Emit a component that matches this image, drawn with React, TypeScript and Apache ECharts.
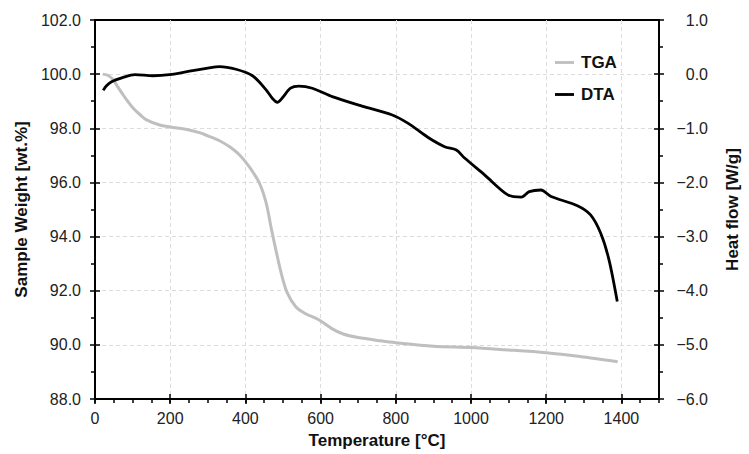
import React, { useEffect, useRef } from "react";
import * as echarts from "echarts";

const tgaTemp = [21, 35, 48, 62, 75, 88, 101, 120, 137, 172, 200, 250, 280, 300, 330, 360, 384, 410, 437, 455, 468, 481, 495, 511, 534, 560, 595, 630, 660, 700, 760, 800, 900, 1000, 1090, 1200, 1290, 1390];
const tgaWeight = [100.0, 99.95, 99.8, 99.5, 99.23, 98.98, 98.75, 98.5, 98.31, 98.12, 98.05, 97.94, 97.83, 97.72, 97.55, 97.3, 97.02, 96.58, 95.98, 95.25, 94.36, 93.51, 92.66, 91.93, 91.41, 91.15, 90.93, 90.6, 90.4, 90.27, 90.15, 90.08, 89.95, 89.9, 89.82, 89.71, 89.57, 89.38];

const dtaTemp = [22, 30, 44, 75, 106, 154, 198, 260, 300, 331, 375, 419, 454, 472, 485, 498, 520, 542, 578, 631, 710, 789, 833, 886, 930, 961, 983, 1036, 1098, 1134, 1155, 1186, 1213, 1283, 1318, 1345, 1367, 1389];
const dtaHeat = [-0.30, -0.22, -0.14, -0.06, -0.01, -0.03, -0.01, 0.065, 0.11, 0.14, 0.09, -0.03, -0.28, -0.45, -0.52, -0.44, -0.26, -0.22, -0.26, -0.415, -0.59, -0.75, -0.91, -1.17, -1.34, -1.40, -1.55, -1.86, -2.23, -2.27, -2.17, -2.14, -2.26, -2.43, -2.60, -2.94, -3.43, -4.20];

const seriesNames = ["TGA", "DTA"];

const FONT = "Arial, 'Liberation Sans', sans-serif";

export default function App() {
  const ref = useRef<HTMLDivElement>(null);
  useEffect(() => {
    if (!ref.current) return;
    const chart = echarts.init(ref.current, null, { renderer: "svg" });
    const axisLine = { show: true, onZero: false, lineStyle: { color: "#000", width: 2 } };
    const noLine = { show: false, onZero: false };
    const tickStyle = { color: "#000", width: 1.5 };
    const grid = { left: 95, right: 87, top: 20, bottom: 55, show: true, borderColor: "#000", borderWidth: 2, backgroundColor: "transparent" };
    const hiddenLabel = { show: false };
    const noSplit = { show: false };
    const legendIcon = "path://M0,0 L20,0 L20,3 L0,3 Z";
    const labelBase = { fontFamily: FONT, fontSize: 16, color: "#222" };
    const nameStyle = { fontFamily: FONT, fontSize: 17, fontWeight: "bold", color: "#111" };
    const splitStyle = { show: true, showMinLine: false, showMaxLine: false, lineStyle: { color: "#dcdcdc", type: [4, 3], width: 1 } };
    const option: any = {
      animation: false,
      backgroundColor: "#fff",
      textStyle: { fontFamily: FONT },
      grid,
      legend: {
        orient: "vertical",
        left: 550,
        top: 49,
        itemWidth: 19,
        itemHeight: 16,
        itemGap: 15,
        icon: legendIcon,
        textStyle: { fontFamily: FONT, fontSize: 17, fontWeight: "bold", color: "#111", padding: [0, 0, 0, 2] },
        data: seriesNames,
      },
      xAxis: [
        {
          type: "value",
          min: 0,
          max: 1500,
          interval: 200,
          position: "bottom",
          axisLine,
          axisTick: { show: true, inside: false, length: 5, lineStyle: tickStyle },
          axisLabel: { ...labelBase, margin: 11, showMaxLabel: false, formatter: (v: number) => String(v) },
          splitLine: noSplit,
          name: "Temperature [°C]",
          nameLocation: "middle",
          nameGap: 33,
          nameTextStyle: nameStyle,
          z: 5,
        },
        {
          type: "value",
          min: 0,
          max: 1500,
          interval: 200,
          position: "bottom",
          axisLine: noLine,
          axisTick: { show: true, inside: true, length: 5, lineStyle: tickStyle },
          axisLabel: hiddenLabel,
          splitLine: splitStyle,
          z: 1,
        },
        {
          type: "value",
          min: 0,
          max: 1500,
          interval: 50,
          position: "bottom",
          axisLine: noLine,
          axisTick: { show: true, inside: false, length: 4, lineStyle: tickStyle },
          axisLabel: hiddenLabel,
          splitLine: noSplit,
          z: 5,
        },
      ],
      yAxis: [
        {
          type: "value",
          min: 88,
          max: 102,
          interval: 2,
          position: "left",
          axisLine,
          axisTick: { show: true, inside: false, length: 5, lineStyle: tickStyle },
          minorTick: { show: true, splitNumber: 2, length: 4, lineStyle: tickStyle },
          axisLabel: { ...labelBase, margin: 14, formatter: (v: number) => v.toFixed(1) },
          splitLine: noSplit,
          name: "Sample Weight [wt.%]",
          nameLocation: "middle",
          nameGap: 65,
          nameTextStyle: nameStyle,
          z: 5,
        },
        {
          type: "value",
          min: -6,
          max: 1,
          interval: 1,
          position: "right",
          axisLine,
          axisTick: { show: true, inside: false, length: 5, lineStyle: tickStyle },
          minorTick: { show: true, splitNumber: 2, length: 4, lineStyle: tickStyle },
          axisLabel: {
            ...labelBase,
            margin: 49,
            align: "right",
            formatter: (v: number) => v.toFixed(1).replace("-", "\u2212"),
          },
          splitLine: noSplit,
          name: "Heat flow [W/g]",
          nameLocation: "middle",
          nameGap: 65,
          nameRotate: 90,
          nameTextStyle: nameStyle,
          z: 5,
        },
        {
          type: "value",
          min: 88,
          max: 102,
          interval: 2,
          position: "left",
          axisLine: noLine,
          axisTick: { show: true, inside: true, length: 5, lineStyle: tickStyle },
          axisLabel: hiddenLabel,
          splitLine: splitStyle,
          z: 1,
        },
        {
          type: "value",
          min: -6,
          max: 1,
          interval: 1,
          position: "right",
          axisLine: noLine,
          axisTick: { show: true, inside: true, length: 5, lineStyle: tickStyle },
          axisLabel: hiddenLabel,
          splitLine: noSplit,
          z: 5,
        },
      ],
      series: [
        {
          name: seriesNames[0],
          type: "line",
          xAxisIndex: 0,
          yAxisIndex: 0,
          symbol: "none",
          smooth: 0.3,
          lineStyle: { color: "#bfbfbf", width: 3 },
          itemStyle: { color: "#bfbfbf" },
          data: tgaTemp.map((t, i) => [t, tgaWeight[i]]),
          z: 3,
        },
        {
          name: seriesNames[1],
          type: "line",
          xAxisIndex: 0,
          yAxisIndex: 1,
          symbol: "none",
          smooth: 0.3,
          lineStyle: { color: "#000", width: 2.8 },
          itemStyle: { color: "#000" },
          data: dtaTemp.map((t, i) => [t, dtaHeat[i]]),
          z: 4,
        },
      ],
    };
    chart.setOption(option);
    return () => chart.dispose();
  }, []);
  return <div ref={ref} style={{ width: 749, height: 454, position: "absolute", left: 0, top: 0 }} />;
}
